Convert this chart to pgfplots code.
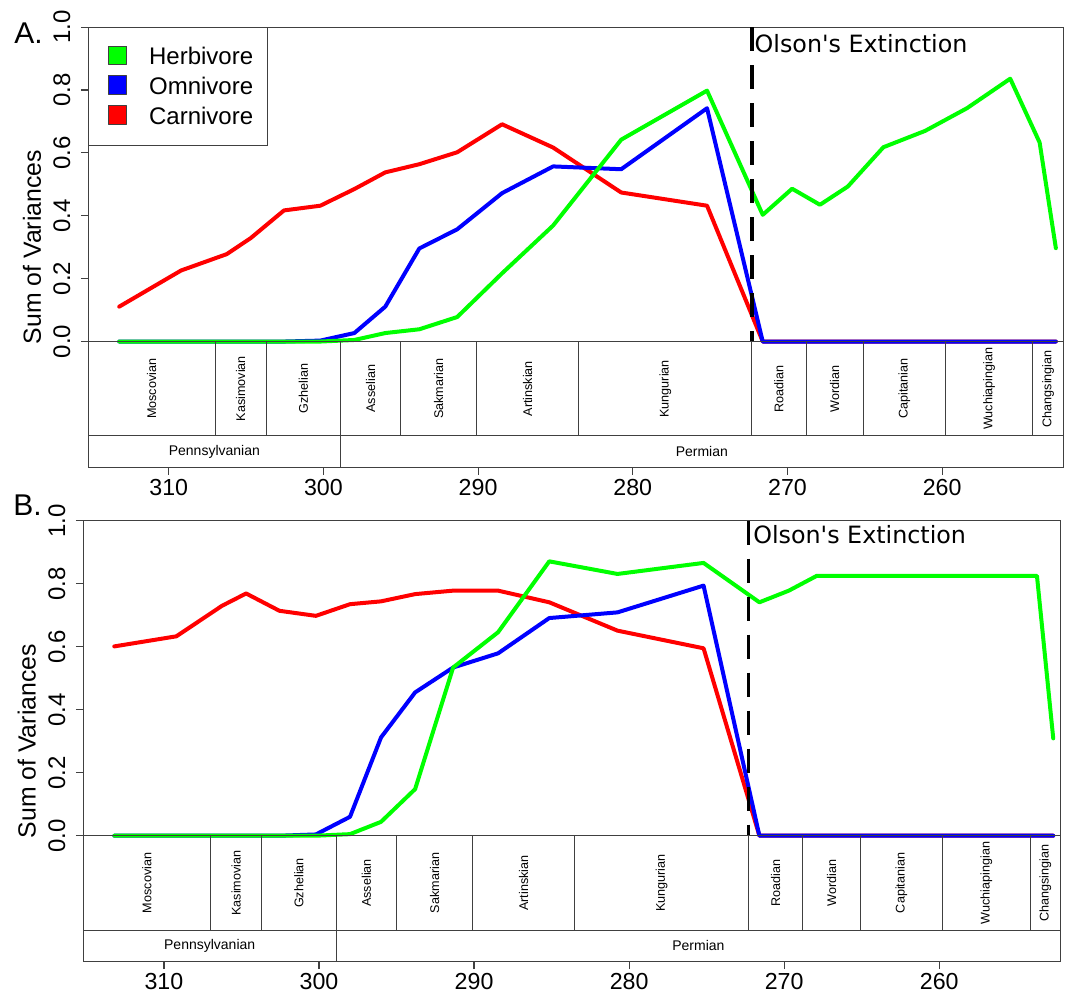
\documentclass[border=0pt]{standalone}
\usepackage{pgfplots}
\usepackage{pgfplotstable}
\pgfplotsset{compat=1.18}
\usepackage{fontspec}
\setmainfont{Liberation Sans}
\newfontfamily\olsonfont{DejaVu Sans}

\definecolor{herb}{RGB}{0,255,0}
\definecolor{omni}{RGB}{0,0,255}
\definecolor{carn}{RGB}{255,0,0}
\definecolor{frame}{RGB}{64,64,64}

% Sum of variances per time bin (age in Ma)
\pgfplotstableread{
age    carn  omni  herb
313.2  0.111 0     0
309.2  0.226 0     0
306.25 0.278 0     0
304.7  0.329 0     0
302.55 0.417 0     0
300.2  0.432 0.003 0
298.0  0.485 0.027 0.005
296.0  0.538 0.111 0.027
293.8  0.564 0.296 0.039
291.35 0.602 0.357 0.078
288.45 0.691 0.472 0.217
285.15 0.617 0.557 0.369
280.75 0.474 0.548 0.642
275.2  0.432 0.742 0.798
271.6  0     0     0.403
269.7  0     0     0.486
267.9  0     0     0.435
266.1  0     0     0.493
263.8  0     0     0.618
261.1  0     0     0.670
258.4  0     0     0.742
255.6  0     0     0.836
253.7  0     0     0.633
252.65 0     0     0.297
}\panelA

\pgfplotstableread{
age    carn  omni  herb
313.2  0.601 0     0
309.2  0.633 0     0
306.25 0.730 0     0
304.7  0.769 0     0
302.55 0.714 0     0
300.2  0.698 0.004 0
298.0  0.735 0.060 0.005
296.0  0.744 0.312 0.044
293.8  0.767 0.455 0.148
291.35 0.778 0.534 0.534
288.45 0.778 0.579 0.646
285.15 0.741 0.691 0.871
280.75 0.651 0.709 0.831
275.2  0.595 0.794 0.866
271.6  0     0     0.741
269.7  0     0     0.778
267.9  0     0     0.825
266.1  0     0     0.825
263.8  0     0     0.825
261.1  0     0     0.825
258.4  0     0     0.825
255.6  0     0     0.825
253.7  0     0     0.825
252.65 0     0     0.309
}\panelB

\tikzset{ts/.style={draw=frame, line width=0.5pt}}

% geological time scale drawn beneath each panel
\newcommand\stage[2]{\node[rotate=90, font=\fontsize{6.3}{7}\selectfont, inner sep=0pt] at (axis cs:#1,-0.15) {#2};}
\newcommand\timescale{%
  \draw[ts] (rel axis cs:0,0.2857143) -- (rel axis cs:1,0.2857143);
  \draw[ts] (rel axis cs:0,0.0714286) -- (rel axis cs:1,0.0714286);
  \draw[ts] (axis cs:307.0,0) -- (axis cs:307.0,-0.3);
  \draw[ts] (axis cs:303.7,0) -- (axis cs:303.7,-0.3);
  \draw[ts] (axis cs:298.9,0) -- (axis cs:298.9,-0.4);
  \draw[ts] (axis cs:295.0,0) -- (axis cs:295.0,-0.3);
  \draw[ts] (axis cs:290.1,0) -- (axis cs:290.1,-0.3);
  \draw[ts] (axis cs:283.5,0) -- (axis cs:283.5,-0.3);
  \draw[ts] (axis cs:272.3,0) -- (axis cs:272.3,-0.3);
  \draw[ts] (axis cs:268.8,0) -- (axis cs:268.8,-0.3);
  \draw[ts] (axis cs:265.1,0) -- (axis cs:265.1,-0.3);
  \draw[ts] (axis cs:259.8,0) -- (axis cs:259.8,-0.3);
  \draw[ts] (axis cs:254.14,0) -- (axis cs:254.14,-0.3);
  \stage{311.1}{Moscovian}
  \stage{305.35}{Kasimovian}
  \stage{301.3}{Gzhelian}
  \stage{296.95}{Asselian}
  \stage{292.55}{Sakmarian}
  \stage{286.8}{Artinskian}
  \stage{277.9}{Kungurian}
  \stage{270.55}{Roadian}
  \stage{266.95}{Wordian}
  \stage{262.45}{Capitanian}
  \stage{256.97}{Wuchiapingian}
  \stage{253.155}{Changsingian}
  \node[font=\fontsize{7}{8}\selectfont] at (axis cs:307.05,-0.35) {Pennsylvanian};
  \node[font=\fontsize{7}{8}\selectfont] at (axis cs:275.535,-0.35) {Permian};
}

\pgfplotsset{
  panel/.style={
    scale only axis,
    xmin=252.17, xmax=315.2, x dir=reverse,
    ymin=-0.4, ymax=1,
    clip=false,
    axis line style={draw=frame, line width=0.6pt},
    xtick={260,270,...,310},
    ytick={0,0.2,0.4,0.6,0.8,1},
    tick pos=left, tick align=outside,
    major tick length=3.75pt,
    every tick/.style={draw=frame, line width=0.6pt},
    /pgf/number format/assume math mode=true,
    yticklabel style={rotate=90, anchor=south, inner sep=0pt, yshift=5pt,
      font=\fontsize{12}{14}\selectfont,
      /pgf/number format/.cd, fixed, fixed zerofill, precision=1},
    xticklabel style={anchor=north, inner sep=0pt, yshift=-2pt,
      font=\fontsize{11.6}{14}\selectfont},
    ylabel={Sum of Variances},
    ylabel style={font=\fontsize{12.4}{14}\selectfont,
      at={(rel axis cs:0,0.5)}, anchor=center, yshift=28.2pt},
    every axis plot/.append style={line width=2pt, line join=round, line cap=round, mark=none},
  },
  sqleg/.style={legend image code/.code={%
    \draw[draw=frame, line width=0.5pt, fill=#1] (0pt,-3.4pt) rectangle (9.2pt,5.8pt);}},
}

\begin{document}
\begin{tikzpicture}
\path[use as bounding box] (0,0) rectangle (536pt,-496.5pt);

% ---- panel A ----
\begin{axis}[panel,
  at={(44.15pt,-233.65pt)}, anchor=south west,
  width=487.5pt, height=220.1pt,
  reverse legend,
  legend cell align=left,
  legend style={at={(rel axis cs:0,1)}, anchor=north west,
    draw=frame, line width=0.6pt, fill=white,
    font=\fontsize{12}{14}\selectfont,
    inner xsep=9.6pt, inner ysep=8.9pt, row sep=3.8pt,
    nodes={inner sep=0pt},
    /tikz/every odd column/.style={column sep=10.8pt},
    /tikz/every even column/.style={text width=49.6pt, align=left}},
]
\addplot[carn, sqleg=carn] table[x=age, y=carn] {\panelA};
\addlegendentry{Carnivore}
\addplot[omni, sqleg=omni] table[x=age, y=omni] {\panelA};
\addlegendentry{Omnivore}
\addplot[herb, sqleg=herb] table[x=age, y=herb] {\panelA};
\addlegendentry{Herbivore}
\addplot[black, line width=1.6pt, line cap=butt, dash pattern=on 12pt off 7pt, forget plot]
  coordinates {(272.3,1) (272.3,0)};
\timescale
\node[anchor=base west, inner sep=0pt, xshift=1.2pt, yshift=-12.85pt,
  font=\olsonfont\fontsize{11.9}{14}\selectfont] at (axis cs:272.3,1) {Olson's Extinction};
\end{axis}

% ---- panel B ----
\begin{axis}[panel,
  at={(41.65pt,-480.85pt)}, anchor=south west,
  width=488.7pt, height=220.5pt,
]
\addplot[carn] table[x=age, y=carn] {\panelB};
\addplot[omni] table[x=age, y=omni] {\panelB};
\addplot[herb] table[x=age, y=herb] {\panelB};
\addplot[black, line width=1.6pt, line cap=butt, dash pattern=on 12pt off 7pt]
  coordinates {(272.3,1) (272.3,0)};
\timescale
\node[anchor=base west, inner sep=0pt, xshift=2.2pt, yshift=-11.5pt,
  font=\olsonfont\fontsize{11.9}{14}\selectfont] at (axis cs:272.3,1) {Olson's Extinction};
\end{axis}

\node[anchor=base west, inner sep=0pt, font=\fontsize{15}{18}\selectfont] at (7pt,-21.5pt) {A.};
\node[anchor=base west, inner sep=0pt, font=\fontsize{15}{18}\selectfont] at (6.5pt,-257.5pt) {B.};
\end{tikzpicture}
\end{document}
